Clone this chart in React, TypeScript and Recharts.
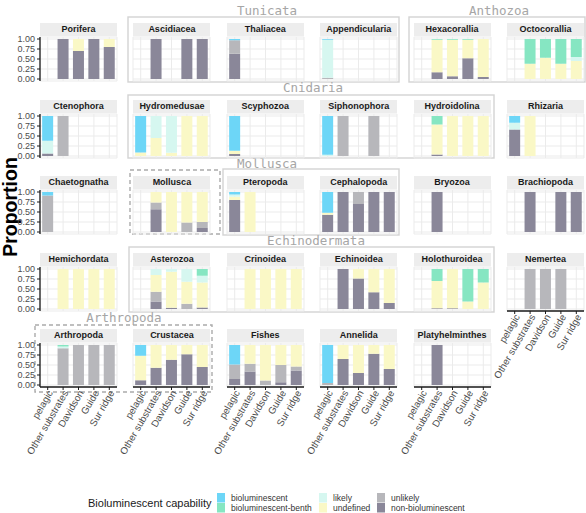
import React from 'react';
import { BarChart, Bar, XAxis, YAxis, CartesianGrid } from 'recharts';

const sites = ['pelagic', 'Other substrates', 'Davidson', 'Guide', 'Sur ridge'];
// stack order bottom -> top
const capabilities = ['non-bioluminescent', 'unlikely', 'undefined', 'likely', 'bioluminescent-benth', 'bioluminescent'];
const capabilityColors = ['#8A8799', '#B7B7BB', '#FAF8C6', '#D6F7F0', '#86E6C2', '#6DD6F7'];
const legendOrder = ['bioluminescent', 'bioluminescent-benth', 'likely', 'undefined', 'unlikely', 'non-bioluminescent'];
const yTicks = [0, 0.25, 0.5, 0.75, 1];

// values per site: [non-biolum, unlikely, undefined, likely, biolum-benth, biolum]
const porifera = [[0,0,0,0,0,0],[1,0,0,0,0,0],[0.7,0,0.3,0,0,0],[1,0,0,0,0,0],[0.8,0,0.2,0,0,0]];
const ascidiacea = [[0,0,0,0,0,0],[1,0,0,0,0,0],[0,0,0,0,0,0],[1,0,0,0,0,0],[1,0,0,0,0,0]];
const thaliacea = [[0.63,0.34,0,0,0,0.03],[0,0,0,0,0,0],[0,0,0,0,0,0],[0,0,0,0,0,0],[0,0,0,0,0,0]];
const appendicularia = [[0,0.03,0,0.95,0,0.02],[0,0,0,0,0,0],[0,0,0,0,0,0],[0,0,0,0,0,0],[0,0,0,0,0,0]];
const hexacorallia = [[0,0,0,0,0,0],[0.17,0,0.81,0,0.02,0],[0.07,0,0.91,0,0.02,0],[0.52,0,0.46,0,0.02,0],[0.05,0,0.95,0,0,0]];
const octocorallia = [[0,0,0,0,0,0],[0,0,0.38,0,0.62,0],[0,0,0.53,0,0.47,0],[0,0,0.38,0,0.62,0],[0,0,0.45,0.1,0.45,0]];
const ctenophora = [[0.06,0,0,0.32,0,0.62],[0,1,0,0,0,0],[0,0,0,0,0,0],[0,0,0,0,0,0],[0,0,0,0,0,0]];
const hydromedusae = [[0,0,0.09,0,0,0.91],[0,0,0.45,0.55,0,0],[0,0,0.08,0.92,0,0],[0,0,1,0,0,0],[0,0,1,0,0,0]];
const scyphozoa = [[0.05,0,0.08,0,0,0.87],[0,0,0,0,0,0],[0,0,0,0,0,0],[0,0,0,0,0,0],[0,0,0,0,0,0]];
const siphonophora = [[0,0,0,0.03,0,0.97],[0,1,0,0,0,0],[0,0,0,0,0,0],[0,1,0,0,0,0],[0,0,0,0,0,0]];
const hydroidolina = [[0,0,0,0,0,0],[0.04,0,0.75,0,0.21,0],[0,0,1,0,0,0],[0,0,1,0,0,0],[0,0,1,0,0,0]];
const rhizaria = [[0.66,0,0,0.17,0,0.17],[0,0,1,0,0,0],[0,0,0,0,0,0],[0,0,0,0,0,0],[0,0,0,0,0,0]];
const chaetognatha = [[0,0.91,0,0,0,0.09],[0,0,0,0,0,0],[0,0,0,0,0,0],[0,0,0,0,0,0],[0,0,0,0,0,0]];
const mollusca = [[0,0,0,0,0,0],[0.57,0.17,0.26,0,0,0],[0,0,1,0,0,0],[0,0.24,0.76,0,0,0],[0.1,0.15,0.75,0,0,0]];
const pteropoda = [[0.8,0,0.08,0.06,0,0.06],[0,0,1,0,0,0],[0,0,0,0,0,0],[0,0,0,0,0,0],[0,0,0,0,0,0]];
const cephalopoda = [[0.43,0,0.05,0,0,0.52],[1,0,0,0,0,0],[0.7,0.3,0,0,0,0],[1,0,0,0,0,0],[1,0,0,0,0,0]];
const bryozoa = [[0,0,0,0,0,0],[1,0,0,0,0,0],[0,0,0,0,0,0],[0,0,0,0,0,0],[0,0,0,0,0,0]];
const brachiopoda = [[0,0,0,0,0,0],[1,0,0,0,0,0],[0,0,0,0,0,0],[1,0,0,0,0,0],[1,0,0,0,0,0]];
const hemichordata = [[0,0,0,0,0,0],[0,0,1,0,0,0],[0,0,1,0,0,0],[0,0,1,0,0,0],[0,0,1,0,0,0]];
const asterozoa = [[0,0,0,0,0,0],[0.19,0.24,0.42,0.15,0,0],[0.03,0,0.9,0.07,0,0],[0,0.13,0.55,0.32,0,0],[0.04,0,0.62,0.17,0.17,0]];
const crinoidea = [[0,0,0,0,0,0],[0,0,1,0,0,0],[0,0,1,0,0,0],[0,0,1,0,0,0],[0,0,1,0,0,0]];
const echinoidea = [[0,0,0,0,0,0],[1,0,0,0,0,0],[0.76,0,0.24,0,0,0],[0.42,0,0.58,0,0,0],[0.15,0,0.85,0,0,0]];
const holothuroidea = [[0,0,0,0,0,0],[0.02,0,0.68,0,0.3,0],[0.02,0,0.98,0,0,0],[0,0,0.19,0,0.81,0],[0,0,0.66,0,0.34,0]];
const nemertea = [[0,0,0,0,0,0],[0,1,0,0,0,0],[0,1,0,0,0,0],[0,1,0,0,0,0],[0,0,0,0,0,0]];
const arthropoda = [[0,0,0,0,0,0],[0,0.92,0,0.04,0.04,0],[0,1,0,0,0,0],[0,1,0,0,0,0],[0,1,0,0,0,0]];
const crustacea = [[0.12,0,0.61,0,0,0.27],[0.43,0,0.57,0,0,0],[0.63,0,0.37,0,0,0],[0.77,0,0.23,0,0,0],[0.45,0,0.55,0,0,0]];
const fishes = [[0.15,0.36,0,0,0,0.49],[0.34,0.19,0.47,0,0,0],[0,0.11,0.89,0,0,0],[0.07,0.43,0.5,0,0,0],[0.36,0.1,0.54,0,0,0]];
const annelida = [[0,0.05,0,0,0,0.95],[0.65,0,0.35,0,0,0],[0.3,0,0.7,0,0,0],[0.78,0,0.22,0,0,0],[0.4,0,0.6,0,0,0]];
const platyhelminthes = [[0,0,0,0,0,0],[1,0,0,0,0,0],[0,0,0,0,0,0],[0,0,0,0,0,0],[0,0,0,0,0,0]];

const taxa = [
  { name: 'Porifera', values: porifera, row: 0, col: 0 },
  { name: 'Ascidiacea', values: ascidiacea, row: 0, col: 1 },
  { name: 'Thaliacea', values: thaliacea, row: 0, col: 2 },
  { name: 'Appendicularia', values: appendicularia, row: 0, col: 3 },
  { name: 'Hexacorallia', values: hexacorallia, row: 0, col: 4 },
  { name: 'Octocorallia', values: octocorallia, row: 0, col: 5 },
  { name: 'Ctenophora', values: ctenophora, row: 1, col: 0 },
  { name: 'Hydromedusae', values: hydromedusae, row: 1, col: 1 },
  { name: 'Scyphozoa', values: scyphozoa, row: 1, col: 2 },
  { name: 'Siphonophora', values: siphonophora, row: 1, col: 3 },
  { name: 'Hydroidolina', values: hydroidolina, row: 1, col: 4 },
  { name: 'Rhizaria', values: rhizaria, row: 1, col: 5 },
  { name: 'Chaetognatha', values: chaetognatha, row: 2, col: 0 },
  { name: 'Mollusca', values: mollusca, row: 2, col: 1 },
  { name: 'Pteropoda', values: pteropoda, row: 2, col: 2 },
  { name: 'Cephalopoda', values: cephalopoda, row: 2, col: 3 },
  { name: 'Bryozoa', values: bryozoa, row: 2, col: 4 },
  { name: 'Brachiopoda', values: brachiopoda, row: 2, col: 5 },
  { name: 'Hemichordata', values: hemichordata, row: 3, col: 0 },
  { name: 'Asterozoa', values: asterozoa, row: 3, col: 1 },
  { name: 'Crinoidea', values: crinoidea, row: 3, col: 2 },
  { name: 'Echinoidea', values: echinoidea, row: 3, col: 3 },
  { name: 'Holothuroidea', values: holothuroidea, row: 3, col: 4 },
  { name: 'Nemertea', values: nemertea, row: 3, col: 5, xAxis: true },
  { name: 'Arthropoda', values: arthropoda, row: 4, col: 0, xAxis: true },
  { name: 'Crustacea', values: crustacea, row: 4, col: 1, xAxis: true },
  { name: 'Fishes', values: fishes, row: 4, col: 2, xAxis: true },
  { name: 'Annelida', values: annelida, row: 4, col: 3, xAxis: true },
  { name: 'Platyhelminthes', values: platyhelminthes, row: 4, col: 4, xAxis: true },
];

const groups = [
  { label: 'Tunicata', x1: 128, y1: 17, x2: 399, y2: 82, dashed: false, lx: 267, ly: 15 },
  { label: 'Anthozoa', x1: 409, y1: 17, x2: 585, y2: 82, dashed: false, lx: 499, ly: 15 },
  { label: 'Cnidaria', x1: 128, y1: 95, x2: 494, y2: 158, dashed: false, lx: 313, ly: 92 },
  { label: '', x1: 130, y1: 170, x2: 220, y2: 234, dashed: true, lx: 0, ly: 0 },
  { label: 'Mollusca', x1: 223, y1: 169, x2: 399, y2: 235, dashed: false, lx: 267, ly: 168 },
  { label: 'Echinodermata', x1: 129, y1: 247, x2: 494, y2: 312, dashed: false, lx: 316, ly: 245 },
  { label: 'Arthropoda', x1: 35, y1: 325, x2: 212, y2: 392, dashed: true, lx: 124, ly: 322 },
];

const PW = 77;
const PH = 44;
const STRIP = 13;
const GAP = 1;
const YW = 30;
const XH = 80;
const colLeft = [40, 133.4, 226.8, 320.2, 413.6, 507];
const rowTop = [23, 99.5, 176, 252.5, 329];
const FONT = '"Liberation Sans", Arial, sans-serif';

const XTick = (props: any) => {
  const { x, y, payload } = props;
  return (
    <g transform={`translate(${x + 2.5},${y - 1})`}>
      <text x={0} y={0} dy="0.35em" transform="rotate(-60)" textAnchor="end" fontSize={9.8} fill="#4D4D4D" fontFamily={FONT}>
        {payload.value}
      </text>
    </g>
  );
};

function Panel({ name, values, row, col, xAxis }: any) {
  const yAxis = col === 0;
  const left = colLeft[col] - (yAxis ? YW : 0);
  const top = rowTop[row];
  const data = sites.map((s, i) => {
    const o: any = { site: s };
    capabilities.forEach((c, j) => { o[c] = values[i][j]; });
    return o;
  });
  return (
    <div style={{ position: 'absolute', left, top }}>
      <div style={{ marginLeft: yAxis ? YW : 0, width: PW, height: STRIP, background: '#EDEDED', fontFamily: FONT, fontWeight: 'bold', fontSize: 9, lineHeight: `${STRIP}px`, textAlign: 'center', color: '#1A1A1A', whiteSpace: 'nowrap' }}>
        {name}
      </div>
      <div style={{ height: GAP }} />
      <BarChart width={PW + (yAxis ? YW : 0)} height={PH + (xAxis ? XH : 0)} data={data} margin={{ top: 0, right: 0, bottom: 0, left: 0 }} barCategoryGap="14%">
        <CartesianGrid stroke="#EBEBEB" strokeWidth={1} />
        <XAxis dataKey="site" hide={!xAxis} height={XH} interval={0} tick={<XTick />} tickSize={3} tickLine={{ stroke: '#1A1A1A' }} axisLine={{ stroke: '#1A1A1A', strokeWidth: 1.3 }} />
        <YAxis type="number" domain={[-0.05, 1.05]} ticks={yTicks} interval={0} allowDataOverflow hide={!yAxis} width={YW} tickSize={3} tickFormatter={(v: number) => v.toFixed(2)} tick={{ fontSize: 9, fill: '#4D4D4D', fontFamily: FONT }} tickLine={{ stroke: '#1A1A1A' }} axisLine={{ stroke: '#1A1A1A', strokeWidth: 1.3 }} />
        {capabilities.map((c, j) => (
          <Bar key={c} dataKey={c} stackId="s" fill={capabilityColors[j]} isAnimationActive={false} />
        ))}
      </BarChart>
    </div>
  );
}

export default function App() {
  const legendCols = [217, 319, 377];
  const legendRows = [493, 503];
  return (
    <div style={{ position: 'absolute', left: 0, top: 0, width: 586, height: 513, background: '#fff', overflow: 'hidden' }}>
      <style>{`.recharts-surface { overflow: visible; } .recharts-wrapper { overflow: visible; }`}</style>
      <svg width={586} height={513} style={{ position: 'absolute', left: 0, top: 0 }}>
        {groups.map((g, i) => (
          <g key={i}>
            <rect x={g.x1} y={g.y1} width={g.x2 - g.x1} height={g.y2 - g.y1} fill="none" stroke={g.dashed ? '#ABABAB' : '#D3D3D3'} strokeWidth={1.4} strokeDasharray={g.dashed ? '4 3' : undefined} />
            {g.label && (
              <text x={g.lx} y={g.ly} textAnchor="middle" fontFamily='"DejaVu Sans Mono", monospace' fontSize={12.5} fill="#A6A6A6">{g.label}</text>
            )}
          </g>
        ))}
        <text transform="translate(17,207) rotate(-90)" textAnchor="middle" fontFamily={FONT} fontWeight="bold" fontSize={19.5} fill="#000">Proportion</text>
        <text x={88} y={507} fontFamily={FONT} fontSize={11} fill="#1A1A1A">Bioluminescent capability</text>
        {legendOrder.map((c, i) => {
          const col = Math.floor(i / 2);
          const row = i % 2;
          const x = legendCols[col];
          const y = legendRows[row];
          const color = capabilityColors[capabilities.indexOf(c)];
          return (
            <g key={c}>
              <rect x={x} y={y} width={8} height={9.5} fill={color} />
              <text x={x + 14} y={y + 8} fontFamily={FONT} fontSize={8.5} fill="#333">{c}</text>
            </g>
          );
        })}
      </svg>
      {taxa.map((t) => (
        <Panel key={t.name} {...t} />
      ))}
    </div>
  );
}
